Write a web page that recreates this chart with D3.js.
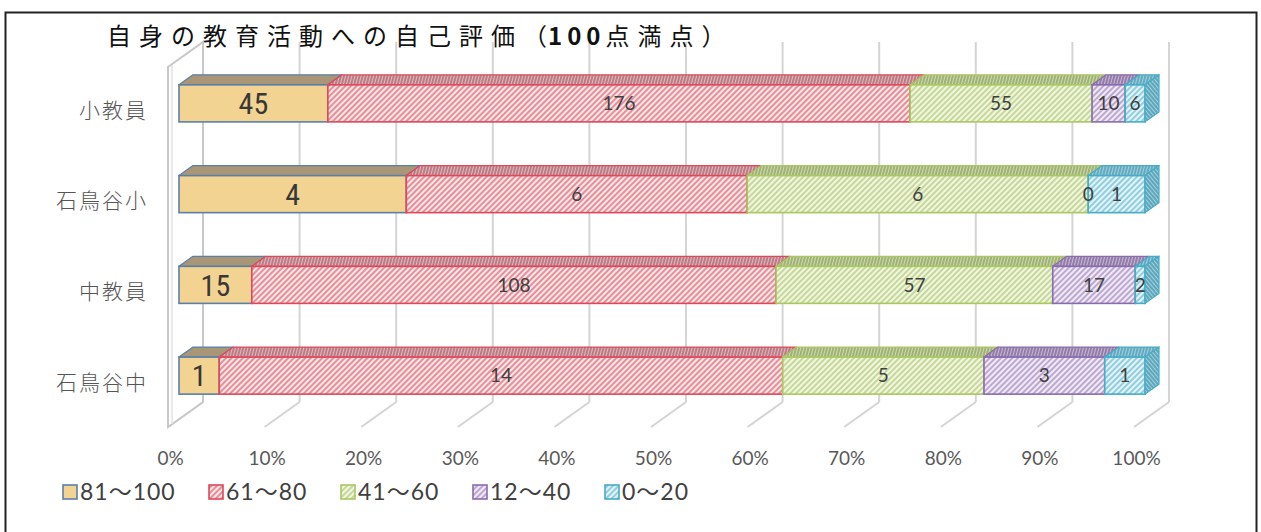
<!DOCTYPE html>
<html><head><meta charset="utf-8">
<script src="https://cdn.jsdelivr.net/npm/d3@7"></script>
<style>body{margin:0;background:#fff;} svg{display:block}</style>
</head><body>
<svg id="c" width="1261" height="532"></svg>
<script>
// ---- data ----
const categories = ["小教員", "石鳥谷小", "中教員", "石鳥谷中"];
const seriesNames = ["81〜100", "61〜80", "41〜60", "12〜40", "0〜20"];
const s81_100 = [45, 4, 15, 1];
const s61_80 = [176, 6, 108, 14];
const s41_60 = [55, 6, 57, 5];
const s12_40 = [10, 0, 17, 3];
const s0_20 = [6, 1, 2, 1];
const tickValues = [0, 0.1, 0.2, 0.3, 0.4, 0.5, 0.6, 0.7, 0.8, 0.9, 1];
const tickLabels = ["0%", "10%", "20%", "30%", "40%", "50%", "60%", "70%", "80%", "90%", "100%"];
const title = ["自身の教育活動への自己評価", "（", "100", "点満点）"];

// ---- styles ----
const styles = [
  {bg: "#f3d391", line: null, stroke: "#5a80aa", topBg: "#a89676", topLine: null, big: true},
  {bg: "#fbe6e8", line: "#dc6a78", stroke: "#e0485a", topBg: "#e7b7bd", topLine: "#9a5560"},
  {bg: "#f1f6e2", line: "#b3cc78", stroke: "#a9c860", topBg: "#cfdcae", topLine: "#7f9450"},
  {bg: "#f1eaf5", line: "#a58cc2", stroke: "#8a6cae", topBg: "#c9b8d8", topLine: "#6e5588"},
  {bg: "#e3f3f8", line: "#6cbfd6", stroke: "#46acc8", topBg: "#9fd2e0", topLine: "#3c8ea6"}
];

const svg = d3.select("#c");
const defs = svg.append("defs");

styles.forEach((s, i) => {
  const p = defs.append("pattern").attr("id", "f" + i).attr("patternUnits", "userSpaceOnUse")
    .attr("width", 4).attr("height", 4).attr("patternTransform", "rotate(45)");
  p.append("rect").attr("width", 4).attr("height", 4).attr("fill", s.bg);
  if (s.line) p.append("line").attr("x1", 1).attr("y1", 0).attr("x2", 1).attr("y2", 4)
    .attr("stroke", s.line).attr("stroke-width", 1.4);
  const t = defs.append("pattern").attr("id", "t" + i).attr("patternUnits", "userSpaceOnUse")
    .attr("width", 3).attr("height", 3).attr("patternTransform", "rotate(15)");
  t.append("rect").attr("width", 3).attr("height", 3).attr("fill", s.topBg);
  if (s.topLine) t.append("line").attr("x1", 1).attr("y1", 0).attr("x2", 1).attr("y2", 3)
    .attr("stroke", s.topLine).attr("stroke-width", 1.2);
  const sd = defs.append("pattern").attr("id", "s" + i).attr("patternUnits", "userSpaceOnUse")
    .attr("width", 3).attr("height", 3).attr("patternTransform", "rotate(-40)");
  sd.append("rect").attr("width", 3).attr("height", 3).attr("fill", s.topBg);
  if (s.topLine) sd.append("line").attr("x1", 1).attr("y1", 0).attr("x2", 1).attr("y2", 3)
    .attr("stroke", s.topLine).attr("stroke-width", 1.3);
});

// frame
svg.append("rect").attr("x", 5.5).attr("y", 12.5).attr("width", 1251).attr("height", 530)
  .attr("fill", "#fff").attr("stroke", "#222").attr("stroke-width", 2);

// scales
const x = d3.scaleLinear().domain([0, 1]).range([179, 1145]);
const y = d3.scaleBand().domain(categories).range([58, 421]).paddingInner(0.592).paddingOuter(0.296);
const D = {dx: 14, dy: -10};
const W = {dx: 24, dy: -17};
const F = {dx: -11, dy: 8};
const wallTop = 42, floorBack = 402;

const grid = svg.append("g");
tickValues.forEach(t => {
  grid.append("line").attr("x1", x(t) + W.dx).attr("x2", x(t) + W.dx)
    .attr("y1", wallTop).attr("y2", floorBack).attr("stroke", "#d4d4d4").attr("stroke-width", 2);
  grid.append("line").attr("x1", x(t) + W.dx).attr("y1", floorBack)
    .attr("x2", x(t) + F.dx).attr("y2", floorBack + (F.dy - W.dy))
    .attr("stroke", "#d4d4d4").attr("stroke-width", 2);
});
const x0 = x(0);
svg.append("path")
  .attr("d", `M${x0 + F.dx},${67} L${x0 + W.dx},${wallTop} L${x0 + W.dx},${floorBack} L${x0 + F.dx},${floorBack + F.dy - W.dy} Z`)
  .attr("fill", "#fff").attr("stroke", "#c8c8c8").attr("stroke-width", 2);
svg.append("line").attr("x1", x0 + F.dx + 4).attr("x2", x0 + F.dx + 4).attr("y1", 65).attr("y2", floorBack + F.dy - W.dy - 3)
  .attr("stroke", "#e2e2e2").attr("stroke-width", 1.5);

const rows = categories.map((c, i) => ({cat: c, [seriesNames[0]]: s81_100[i], [seriesNames[1]]: s61_80[i],
  [seriesNames[2]]: s41_60[i], [seriesNames[3]]: s12_40[i], [seriesNames[4]]: s0_20[i]}));
const stack = d3.stack().keys(seriesNames).offset(d3.stackOffsetExpand)(rows);

const bars = svg.append("g");
categories.forEach((c, ci) => {
  const yt = y(c), yb = y(c) + y.bandwidth();
  let lastSeries = 0;
  stack.forEach((layer, si) => { if (layer[ci][1] - layer[ci][0] > 0) lastSeries = si; });
  stack.forEach((layer, si) => {
    const d = layer[ci];
    const a = x(d[0]), b = x(d[1]);
    const st = styles[si];
    if (b - a > 0) {
      bars.append("path").attr("d", `M${a},${yt} L${a + D.dx},${yt + D.dy} L${b + D.dx},${yt + D.dy} L${b},${yt} Z`)
        .attr("fill", `url(#t${si})`).attr("stroke", st.stroke).attr("stroke-width", 1.2).attr("stroke-linejoin", "round");
      bars.append("rect").attr("x", a).attr("y", yt).attr("width", b - a).attr("height", yb - yt)
        .attr("fill", `url(#f${si})`).attr("stroke", st.stroke).attr("stroke-width", 1.6);
      if (si === lastSeries) {
        bars.append("path").attr("d", `M${b},${yt} L${b + D.dx},${yt + D.dy} L${b + D.dx},${yb + D.dy} L${b},${yb} Z`)
          .attr("fill", `url(#s${si})`).attr("stroke", st.stroke).attr("stroke-width", 1.2);
      }
    }
  });
  stack.forEach((layer, si) => {
    const d = layer[ci];
    const cx = (x(d[0]) + x(d[1])) / 2;
    const v = d.data[seriesNames[si]];
    const big = styles[si].big;
    bars.append("text").attr("x", cx).attr("y", (yt + yb) / 2)
      .attr("dy", big ? "0.36em" : "0.35em")
      .attr("text-anchor", "middle")
      .attr("font-family", big ? "'Liberation Sans Narrow', 'Roboto Condensed', Roboto, sans-serif" : "Lato, 'Open Sans', sans-serif")
      .attr("font-size", big ? 30 : 19)
      .attr("fill", big ? "#383838" : "#404040")
      .text(v);
  });
});

const catG = svg.append("g");
categories.forEach(c => {
  catG.append("text").attr("x", 148).attr("y", y(c) + y.bandwidth() / 2 + 7)
    .attr("dy", "0.35em").attr("text-anchor", "end")
    .attr("font-family", "'Noto Sans CJK JP', sans-serif").attr("font-weight", 300)
    .attr("font-size", 21).attr("letter-spacing", 2).attr("fill", "#555").text(c);
});

const xAxisScale = d3.scaleLinear().domain([0, 1]).range([x(0) + F.dx + 2, x(1) + F.dx + 2]);
const axis = d3.axisBottom(xAxisScale).tickValues(tickValues).tickSize(0).tickPadding(0)
  .tickFormat((d, i) => tickLabels[i]);
const ax = svg.append("g").attr("transform", "translate(0,451)").call(axis);
ax.select(".domain").remove();
ax.selectAll("text").attr("font-family", "Lato, 'Open Sans', sans-serif").attr("font-size", 19).attr("fill", "#595959");

// title
const tt = svg.append("text").attr("x", 107).attr("y", 45)
  .attr("font-family", "'Noto Sans CJK JP', sans-serif").attr("font-size", 24).attr("fill", "#111")
  .attr("font-weight", 400);
tt.append("tspan").attr("letter-spacing", 8).text(title[0]);
tt.append("tspan").attr("letter-spacing", 1).text(title[1]);
tt.append("tspan").attr("font-weight", 700).attr("letter-spacing", 5).text(title[2]);
tt.append("tspan").attr("letter-spacing", 8).text(title[3]);

// legend
const legPos = [62, 208, 340, 472, 604];
const leg = svg.append("g");
seriesNames.forEach((n, i) => {
  leg.append("rect").attr("x", legPos[i] + 1).attr("y", 485).attr("width", 14).attr("height", 14)
    .attr("fill", `url(#f${i})`).attr("stroke", styles[i].stroke).attr("stroke-width", 1.6);
  leg.append("text").attr("x", legPos[i] + 18).attr("y", 492).attr("dy", "0.36em")
    .attr("font-family", "Lato, 'Noto Sans CJK JP', sans-serif").attr("font-size", 23)
    .attr("letter-spacing", 1).attr("fill", "#404040").text(n);
});
</script>
</body></html>
